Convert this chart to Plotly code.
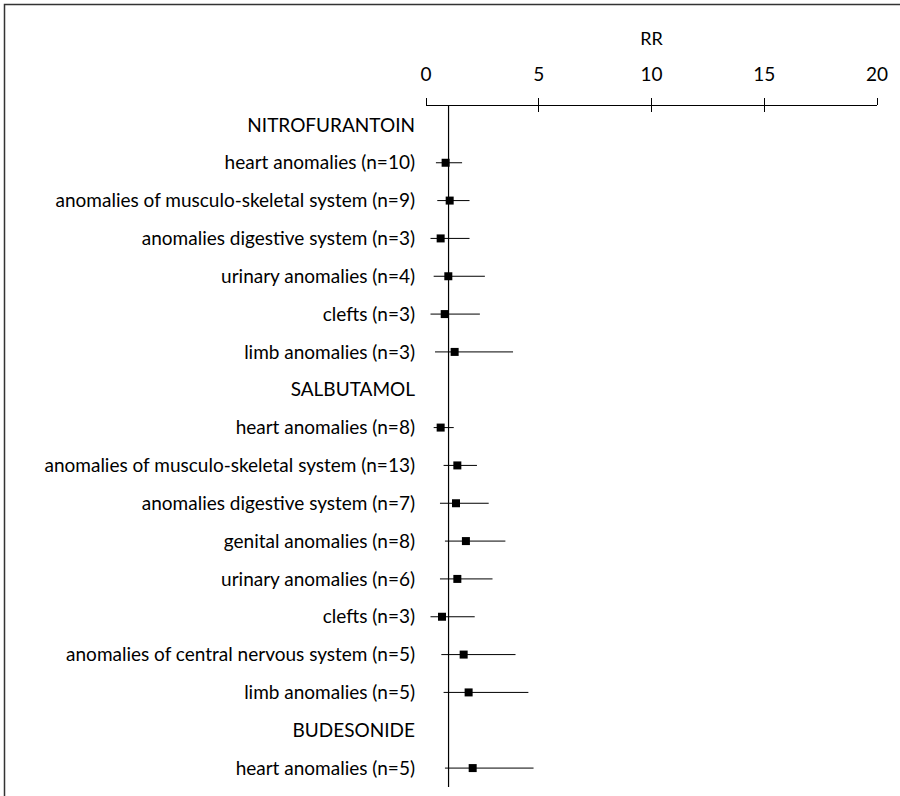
import plotly.graph_objects as go

# Row labels, top to bottom (drug headers have no estimate)
labels = [
    "NITROFURANTOIN",
    "heart anomalies (n=10)",
    "anomalies of musculo-skeletal system (n=9)",
    "anomalies digestive system (n=3)",
    "urinary anomalies (n=4)",
    "clefts (n=3)",
    "limb anomalies (n=3)",
    "SALBUTAMOL",
    "heart anomalies (n=8)",
    "anomalies of musculo-skeletal system (n=13)",
    "anomalies digestive system (n=7)",
    "genital anomalies (n=8)",
    "urinary anomalies (n=6)",
    "clefts (n=3)",
    "anomalies of central nervous system (n=5)",
    "limb anomalies (n=5)",
    "BUDESONIDE",
    "heart anomalies (n=5)",
]

# Relative risk with 95% CI (None for header rows)
rr = [None, 0.87, 1.05, 0.65, 0.99, 0.83, 1.27,
      None, 0.65, 1.39, 1.33, 1.77, 1.39, 0.71, 1.67, 1.89,
      None, 2.07]
ci_low = [None, 0.44, 0.50, 0.20, 0.34, 0.20, 0.40,
          None, 0.34, 0.78, 0.62, 0.84, 0.62, 0.20, 0.68, 0.78,
          None, 0.84]
ci_high = [None, 1.60, 1.93, 1.93, 2.61, 2.39, 3.86,
           None, 1.23, 2.26, 2.78, 3.52, 2.95, 2.16, 3.97, 4.54,
           None, 4.77]

x_ticks = [0, 5, 10, 15, 20]
null_rr = 1

rows = list(range(len(labels)))
err_plus = [None if r is None else h - r for r, h in zip(rr, ci_high)]
err_minus = [None if r is None else r - l for r, l in zip(rr, ci_low)]

FONT = "Lato"
SIZE = 19
fig = go.Figure()
fig.add_trace(go.Scatter(
    x=rr, y=rows, mode="markers",
    marker=dict(symbol="square", size=8, color="black"),
    error_x=dict(type="data", symmetric=False, array=err_plus,
                 arrayminus=err_minus, color="black", thickness=1, width=0),
    showlegend=False, hoverinfo="skip",
))
# second trace only to drive the overlaid axis that draws inward ticks
fig.add_trace(go.Scatter(x=[None], y=[None], xaxis="x2", showlegend=False))

fig.update_layout(
    width=900, height=796,
    margin=dict(l=426, r=23, t=106, b=9, autoexpand=False),
    paper_bgcolor="white", plot_bgcolor="white",
    font=dict(family=FONT, size=SIZE, color="black"),
    xaxis=dict(
        side="top", range=[0, 20], tickvals=x_ticks, automargin=False,
        showgrid=False, zeroline=False, showline=True,
        linecolor="black", linewidth=1,
        ticks="outside", ticklen=7, tickcolor="black", tickwidth=1,
        ticklabelstandoff=9,
        title=dict(text="RR", standoff=12, font=dict(size=SIZE - 1)),
        tickfont=dict(size=SIZE),
    ),
    xaxis2=dict(
        overlaying="x", side="top", range=[0, 20], tickvals=x_ticks,
        automargin=False,
        showgrid=False, zeroline=False, showline=False,
        ticks="inside", ticklen=6, tickcolor="black", tickwidth=1,
        showticklabels=False,
    ),
    yaxis=dict(
        range=[len(labels) - 0.5, -0.5], tickvals=rows, ticktext=labels,
        automargin=False,
        showgrid=False, zeroline=False, showline=False, ticks="",
        ticklabelstandoff=10, tickfont=dict(size=SIZE),
    ),
    shapes=[
        dict(type="line", xref="x", yref="paper", x0=null_rr, x1=null_rr,
             y0=0, y1=1, line=dict(color="black", width=1.2)),
        dict(type="rect", xref="paper", yref="paper",
             x0=(4.5 - 426) / 451, x1=1.2, y0=-0.1, y1=1 + (106 - 4.5) / 681,
             line=dict(color="#333333", width=1.5), fillcolor="rgba(0,0,0,0)"),
    ],
)

fig.write_html("out.html")
